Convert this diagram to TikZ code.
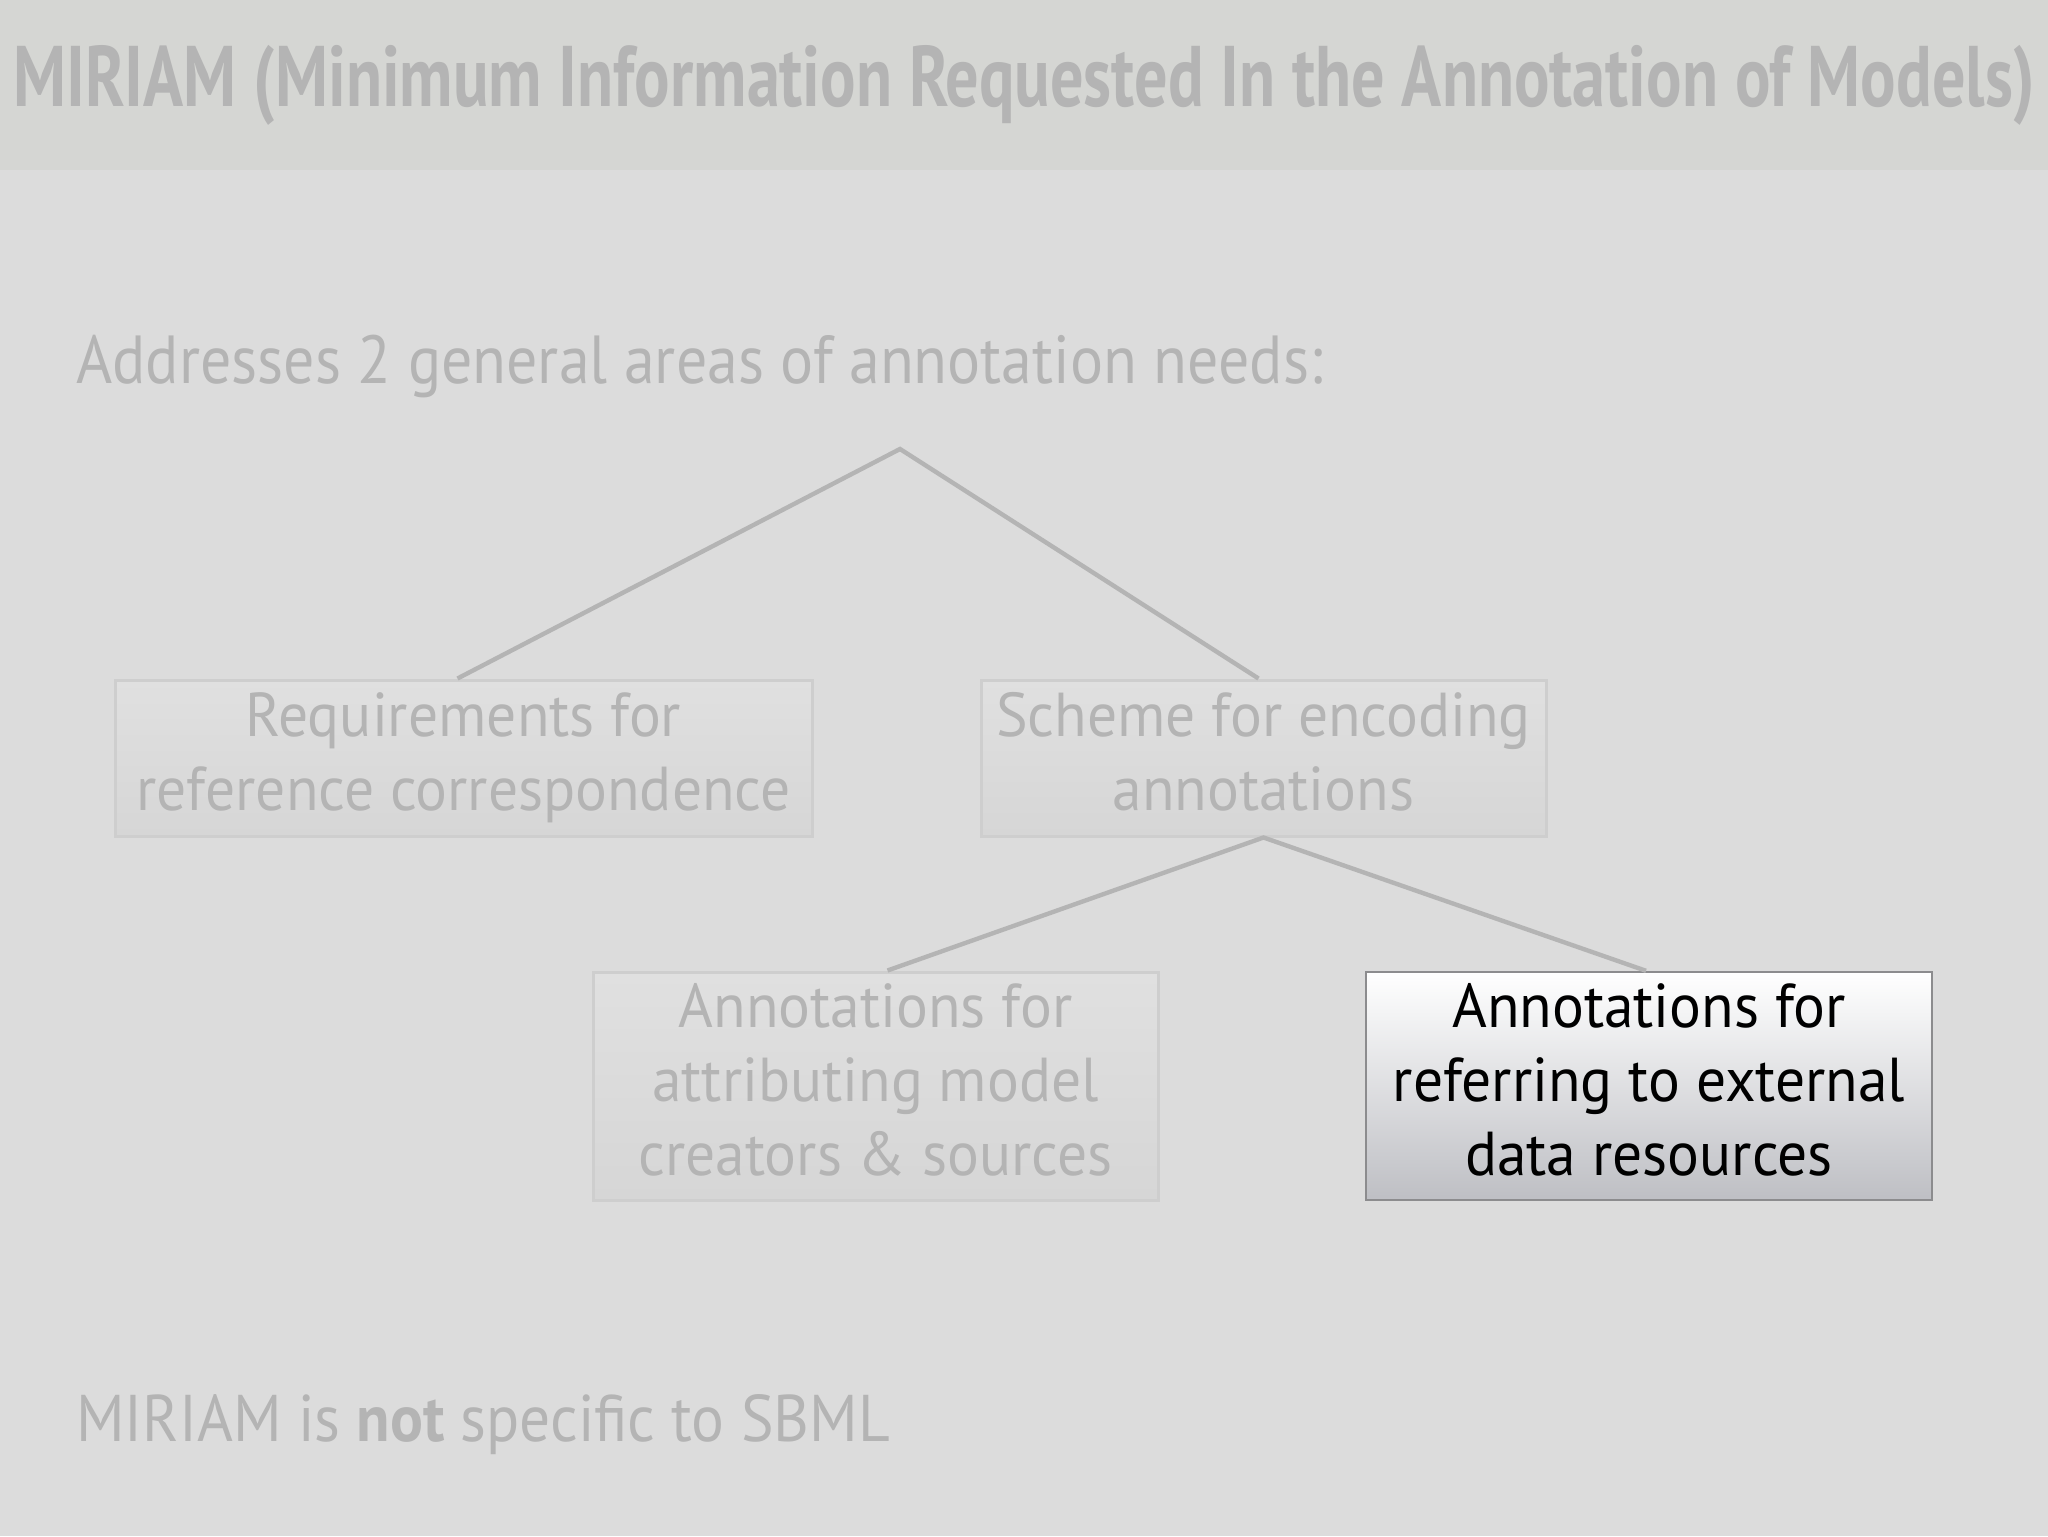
\documentclass[tikz,border=0pt]{standalone}
\usepackage{fontspec}
\setmainfont{PT Sans}
\newfontfamily\titlefont{PT Sans}
\newfontfamily\boxfont[FakeStretch=0.96]{PT Sans}
\usetikzlibrary{shadings,calc}
\definecolor{bgc}{RGB}{220,220,220}
\definecolor{bandc}{RGB}{213,214,211}
\definecolor{fadetxt}{RGB}{180,180,180}
\definecolor{fadeline}{RGB}{180,180,180}
\definecolor{fadeborder}{RGB}{206,206,206}
\definecolor{fadetop}{RGB}{224,224,224}
\definecolor{fadebot}{RGB}{214,214,214}
\definecolor{hiborder}{RGB}{140,140,142}
\definecolor{hibottom}{RGB}{190,191,196}
\tikzset{
  fadebox/.style={draw=fadeborder, line width=1.5pt, top color=fadetop, bottom color=fadebot,
    text=fadetxt, align=center, inner sep=0pt, font=\boxfont\fontsize{31}{37}\selectfont},
  hibox/.style={draw=hiborder, line width=1.2pt, top color=white, bottom color=hibottom,
    text=black, align=center, inner sep=0pt, font=\boxfont\fontsize{31}{37}\selectfont},
  tree/.style={draw=fadeline, line width=2.2pt},
  fadetext/.style={text=fadetxt, inner sep=0pt, anchor=base west}
}
\begin{document}
\begin{tikzpicture}[x=0.5pt,y=-0.5pt]
\useasboundingbox (0,0) rectangle (2048,1536);
\fill[bgc] (0,0) rectangle (2048,1536);
\fill[bandc] (0,0) rectangle (2048,170);
\node[fadetext, anchor=base, font=\titlefont\bfseries\fontsize{43}{48}\selectfont] (title) at (1024,106)
  {\scalebox{0.77}[1]{MIRIAM (Minimum Information Requested In the Annotation of Models)}};
\node[fadetext, font=\fontsize{34}{40}\selectfont] (sub) at (76,383) {\scalebox{0.91}[1]{Addresses 2 general areas of annotation needs:}};
\coordinate (apex) at (900,449);
\node[fadebox, minimum width=697*0.5pt, minimum height=156*0.5pt] (b1) at (463.5,758)
  {Requirements for\\reference correspondence};
\node[fadebox, minimum width=565*0.5pt, minimum height=156*0.5pt] (b2) at (1263.5,758)
  {Scheme for encoding\\annotations\vphantom{p}};
\node[fadebox, minimum width=565*0.5pt, minimum height=228*0.5pt] (b3) at (875.5,1086)
  {Annotations for\\attributing model\\creators \& sources\vphantom{p}};
\node[hibox, minimum width=566*0.5pt, minimum height=228*0.5pt] (b4) at (1649,1086)
  {Annotations for\\referring to external\\data resources\vphantom{p}};
\draw[tree] ($(b1.north)+(-6,0)$) -- (apex) -- ($(b2.north)+(-5,0)$);
\draw[tree] ($(b3.north)+(12,0)$) -- (b2.south) -- ($(b4.north)+(-3,0)$);
\node[fadetext, font=\fontsize{33}{40}\selectfont] (foot) at (76,1441) {\scalebox{0.93}[1]{MIRIAM is \textbf{not} specific to SBML}};
\end{tikzpicture}
\end{document}
